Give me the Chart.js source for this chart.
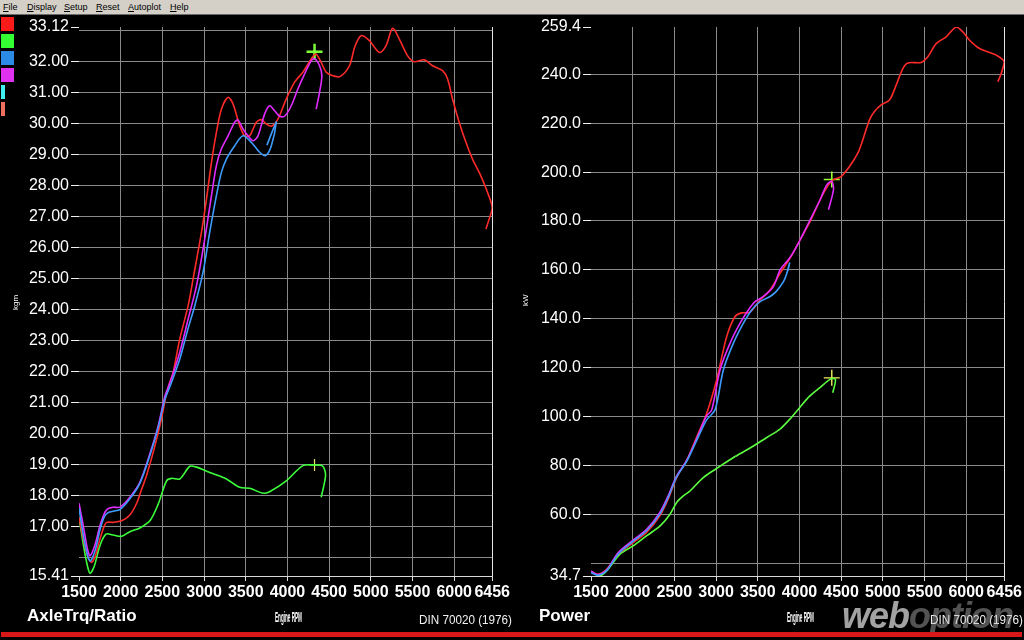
<!DOCTYPE html>
<html>
<head>
<meta charset="utf-8">
<script src="https://cdn.jsdelivr.net/npm/chart.js@4.4.1/dist/chart.umd.min.js"></script>
<style>
  html, body { margin:0; padding:0; background:#000; width:1024px; height:640px; overflow:hidden; font-family:'Liberation Sans', Arial, sans-serif; }
  #menu { position:absolute; left:0; top:0; width:1024px; height:14px; background:#d4d0c8; border-bottom:1px solid #6a6a6a; font:9px 'Liberation Sans', Arial, sans-serif; color:#000; }
  #menu span { position:absolute; top:1px; line-height:12px; }
  #menu u { text-decoration:underline; }
  canvas { position:absolute; }
  .sw { position:absolute; left:1px; width:13px; height:14px; }
  .lbl { position:absolute; color:#fff; white-space:nowrap; }
  .title { font-weight:bold; font-size:17px; line-height:20px; }
  .din { font-size:13px; line-height:16px; color:#f2f2f2; transform:scaleX(0.9); transform-origin:left top; }
  .rpm { font-size:11px; font-weight:bold; line-height:12px; transform:scaleX(0.42) scaleY(1.4); transform-origin:left top; }
  .unit { font-size:8px; line-height:9px; transform:rotate(-90deg); transform-origin:left top; }
  #wm { position:absolute; left:842px; top:595px; font:italic 900 36px 'Liberation Sans', Arial, sans-serif; color:rgba(190,190,190,0.85); letter-spacing:-1px; }
  #wm span { color:rgba(185,185,185,0.45); }
  #redbar { position:absolute; left:1px; top:632px; width:1021px; height:5px; background:#d81818; }
</style>
</head>
<body>
<div id="menu">
  <span style="left:3px"><u>F</u>ile</span>
  <span style="left:27px"><u>D</u>isplay</span>
  <span style="left:64px"><u>S</u>etup</span>
  <span style="left:96px"><u>R</u>eset</span>
  <span style="left:128px"><u>A</u>utoplot</span>
  <span style="left:170px"><u>H</u>elp</span>
</div>

<div class="sw" style="top:17px;background:#ff1a1a"></div>
<div class="sw" style="top:34px;background:#33ff33"></div>
<div class="sw" style="top:51px;background:#2a8ae6"></div>
<div class="sw" style="top:68px;background:#e030f0"></div>
<div class="sw" style="top:85px;width:4px;background:#40f0f0"></div>
<div class="sw" style="top:102px;width:4px;background:#f07060"></div>

<canvas id="trqChart" width="512" height="611" style="left:0;top:14px"></canvas>
<canvas id="pwrChart" width="512" height="611" style="left:512px;top:14px"></canvas>

<div class="lbl unit" style="left:11px;top:310px">kgm</div>
<div class="lbl unit" style="left:521px;top:306px">kW</div>

<div class="lbl title" style="left:27px;top:606px">AxleTrq/Ratio</div>
<div class="lbl rpm" style="left:275px;top:608px">Engine RPM</div>
<div class="lbl din" style="left:419px;top:612px">DIN 70020 (1976)</div>

<div class="lbl title" style="left:539px;top:606px">Power</div>
<div class="lbl rpm" style="left:787px;top:608px">Engine RPM</div>
<div class="lbl din" style="left:930px;top:612px">DIN 70020 (1976)</div>
<div id="wm">web<span>option</span></div>

<div id="redbar"></div>

<script>
// ---- axis ticks ----
const rpmTicks = [1500, 2000, 2500, 3000, 3500, 4000, 4500, 5000, 5500, 6000, 6456];
const trqTicks = [15.41, 16, 17, 18, 19, 20, 21, 22, 23, 24, 25, 26, 27, 28, 29, 30, 31, 32, 33, 33.12];
const trqHidden = [16, 33];
const pwrTicks = [34.7, 40, 60, 80, 100, 120, 140, 160, 180, 200, 220, 240, 259.4];
const pwrHidden = [40];

// ---- AxleTrq/Ratio (left) ----
const trqRedRpm = [1500,1560,1610,1652,1700,1751,1800,1831,1911,2011,2110,2190,2250,2310,2410,2490,2550,2589,2629,2709,2809,2868,2969,3029,3089,3148,3208,3288,3347,3427,3487,3547,3627,3687,3747,3807,3886,3986,4086,4185,4285,4340,4405,4465,4545,4630,4744,4810,4884,4983,5103,5183,5262,5342,5442,5522,5642,5741,5861,5921,5980,6060,6141,6220,6320,6399,6456,6420,6380];
const trqRed    = [17.3,16.5,16.0,15.85,16.1,16.6,17.0,17.14,17.14,17.19,17.38,17.75,18.2,18.65,19.6,20.5,21.3,21.66,21.98,23.06,24.13,24.99,26.5,27.57,28.75,29.72,30.47,30.85,30.64,29.94,29.61,29.61,30.05,30.13,29.99,29.92,30.15,30.8,31.34,31.66,32.09,32.25,31.98,31.66,31.55,31.52,31.87,32.5,32.84,32.68,32.3,32.52,33.08,32.73,32.19,32.0,32.06,31.87,31.71,31.44,30.8,30.05,29.4,28.86,28.32,27.79,27.3,26.93,26.6];

const trqMagRpm = [1500,1560,1600,1632,1690,1751,1800,1840,1911,1991,2110,2230,2350,2450,2529,2570,2629,2709,2809,2909,3008,3089,3148,3208,3288,3368,3407,3467,3527,3587,3647,3726,3786,3846,3906,3966,4046,4125,4205,4285,4325,4385,4413,4385,4345];
const trqMag    = [17.76,16.9,16.3,16.06,16.4,17.03,17.4,17.57,17.63,17.63,17.95,18.43,19.35,20.26,21.2,21.5,21.95,22.63,23.7,24.77,26.28,27.68,28.65,29.19,29.61,30.05,30.12,29.83,29.61,29.45,29.61,30.31,30.58,30.42,30.24,30.24,30.58,31.12,31.6,32.03,32.1,31.87,31.55,31.01,30.47];

const trqBlueRpm = [1500,1560,1610,1640,1700,1751,1800,1840,1911,1991,2110,2230,2350,2450,2529,2580,2629,2709,2809,2889,2988,3068,3148,3208,3268,3368,3467,3567,3666,3738,3807,3866,3826,3754];
const trqBlue    = [17.6,16.6,16.0,15.9,16.3,16.9,17.3,17.44,17.5,17.55,17.9,18.4,19.3,20.2,21.1,21.45,21.8,22.41,23.4,24.13,25.21,26.5,27.68,28.43,28.86,29.29,29.61,29.4,29.08,28.97,29.29,30.05,29.8,29.31];

const trqGreenRpm = [1500,1560,1600,1632,1680,1751,1823,1911,2011,2110,2230,2350,2450,2550,2610,2709,2829,2900,3068,3268,3427,3547,3706,3786,3986,4185,4325,4424,4457,4405];
const trqGreen    = [17.3,16.3,15.75,15.5,15.7,16.39,16.76,16.73,16.69,16.84,16.96,17.19,17.73,18.48,18.56,18.54,18.95,18.93,18.75,18.54,18.27,18.24,18.08,18.13,18.48,18.97,18.99,18.95,18.65,17.95];

const trqMarkRpm = [4325];
const trqMarkHi  = [32.32];
const trqMarkLo  = [18.99];

// ---- Power (right) ----
const pwrRedRpm = [1500,1587,1688,1827,1994,2167,2326,2425,2526,2646,2765,2885,3005,3128,3228,3308,3404,3528,3648,3768,3888,4008,4128,4248,4348,4408,4500,4600,4700,4760,4840,4900,4980,5080,5160,5240,5300,5460,5540,5640,5760,5880,5960,6040,6160,6280,6360,6456,6420,6380];
const pwrRed    = [36.5,35.4,37.4,43.6,48.1,52.5,59.3,66.1,74.9,81.9,91.4,101.0,114.7,132.7,140.9,142.4,142.6,147.7,151.8,158.6,164.8,172.3,179.8,188.7,194.8,196.9,198.2,202.3,207.8,213.2,221.4,224.8,227.5,229.5,235.6,242.4,244.7,244.9,247.2,252.6,255.4,259.4,257.4,254.0,250.6,249.0,247.9,245.2,240.4,237.0];

const pwrMagRpm = [1500,1590,1688,1827,1994,2167,2326,2425,2526,2646,2765,2885,2948,3048,3168,3288,3388,3468,3568,3688,3768,3848,3908,4008,4128,4248,4328,4388,4408,4348];
const pwrMag    = [36.6,35.3,37.2,44.3,49.1,53.8,60.7,67.5,75.6,81.9,90.7,100.2,102.7,119.1,130.0,138.2,143.6,147.0,149.1,153.2,160.0,163.4,166.1,172.3,180.5,188.7,194.8,196.2,192.8,184.6];

const pwrBlueRpm = [1500,1590,1690,1830,1994,2167,2326,2425,2526,2646,2765,2885,2988,3088,3208,3328,3428,3528,3648,3723,3808,3843,3882,3862];
const pwrBlue    = [36.0,35.0,37.0,43.8,48.6,53.2,60.0,66.8,75.2,81.5,90.0,98.5,102.7,119.1,130.0,138.2,143.6,147.0,149.1,151.2,155.2,158.0,162.8,159.5];

const pwrGreenRpm = [1500,1611,1691,1851,2010,2169,2329,2448,2528,2608,2687,2847,3006,3205,3404,3604,3763,3882,4002,4122,4241,4381,4432,4400];
const pwrGreen    = [36.5,34.8,36.9,43.7,47.1,51.2,55.2,60.0,64.8,67.5,69.5,75.0,78.7,83.1,87.0,91.3,94.7,98.8,103.6,108.3,111.7,115.5,115.1,109.7];

const pwrMarkRpm = [4388];
const pwrMarkHi  = [197.0];
const pwrMarkLo  = [115.8];

// ---- helpers ----
const sans = "'Liberation Sans',Arial,sans-serif";
const gridGray = '#8a8a8a';

function pts(xs, ys){ return xs.map((x,i) => ({x: x, y: ys[i]})); }

function curve(xs, ys, color){
  return { type:'line', data: pts(xs, ys), borderColor: color, borderWidth: 1.6,
           pointRadius: 0, tension: 0.3, fill: false };
}
function mark(xs, ys, color, r, w){
  return { type:'scatter', data: pts(xs, ys), pointStyle:'cross', pointRadius: r,
           borderColor: color, backgroundColor: color, borderWidth: w };
}

function makeOptions(yMin, yMax, yTicks, yHidden, digits, rightPad){
  const first = yTicks[0], last = yTicks[yTicks.length-1];
  return {
    responsive: false, animation: false,
    layout: { padding: { left: 0, right: rightPad, top: 13, bottom: 0 } },
    plugins: { legend: { display: false }, tooltip: { enabled: false } },
    scales: {
      x: {
        type: 'linear', min: 1500, max: 6456,
        afterBuildTicks: s => { s.ticks = rpmTicks.map(v => ({ value: v })); },
        afterFit: s => { s.height = 49; },
        border: { color: '#d8d8d8', width: 1 },
        grid: {
          color: c => {
            const v = c.tick ? c.tick.value : null;
            if (v === 1500) return 'rgba(0,0,0,0)';
            if (v === 6456) return '#e6e6e6';
            return gridGray;
          },
          tickLength: 5, tickColor: '#e0e0e0'
        },
        ticks: { color: '#fff', font: { family: sans, size: 16, weight: 'bold' }, padding: 2,
                 maxRotation: 0, autoSkip: false, callback: v => String(v) }
      },
      y: {
        type: 'linear', min: yMin, max: yMax,
        afterBuildTicks: s => { s.ticks = yTicks.map(v => ({ value: v })); },
        afterFit: s => { s.width = 79; },
        border: { display: false },
        grid: {
          color: c => {
            const v = c.tick ? c.tick.value : null;
            if (v === first || v === last) return 'rgba(0,0,0,0)';
            return gridGray;
          },
          tickLength: 8,
          tickColor: c => (c.tick && yHidden.includes(c.tick.value)) ? 'rgba(0,0,0,0)' : '#f0f0f0'
        },
        ticks: { color: '#fff', font: { family: sans, size: 16 }, padding: 2, autoSkip: false,
                 callback: v => yHidden.includes(v) ? '' : Number(v).toFixed(digits) }
      }
    }
  };
}

new Chart(document.getElementById('trqChart'), {
  data: { datasets: [
    curve(trqBlueRpm, trqBlue, '#3f9cff'),
    curve(trqMagRpm, trqMag, '#e02cff'),
    curve(trqRedRpm, trqRed, '#ff2a2a'),
    curve(trqGreenRpm, trqGreen, '#3cff3c'),
    mark(trqMarkRpm, trqMarkHi, '#7dff3a', 8, 2.5),
    mark(trqMarkRpm, trqMarkLo, '#e8e86a', 6, 1.2)
  ]},
  options: makeOptions(15.41, 33.12, trqTicks, trqHidden, 2, 19)
});

new Chart(document.getElementById('pwrChart'), {
  data: { datasets: [
    curve(pwrBlueRpm, pwrBlue, '#3f9cff'),
    curve(pwrMagRpm, pwrMag, '#e02cff'),
    curve(pwrRedRpm, pwrRed, '#ff2a2a'),
    curve(pwrGreenRpm, pwrGreen, '#5cff40'),
    mark(pwrMarkRpm, pwrMarkHi, '#9aff3a', 8, 1.6),
    mark(pwrMarkRpm, pwrMarkLo, '#f0f060', 8, 1.4)
  ]},
  options: makeOptions(34.7, 259.4, pwrTicks, pwrHidden, 1, 18)
});
</script>
</body>
</html>
